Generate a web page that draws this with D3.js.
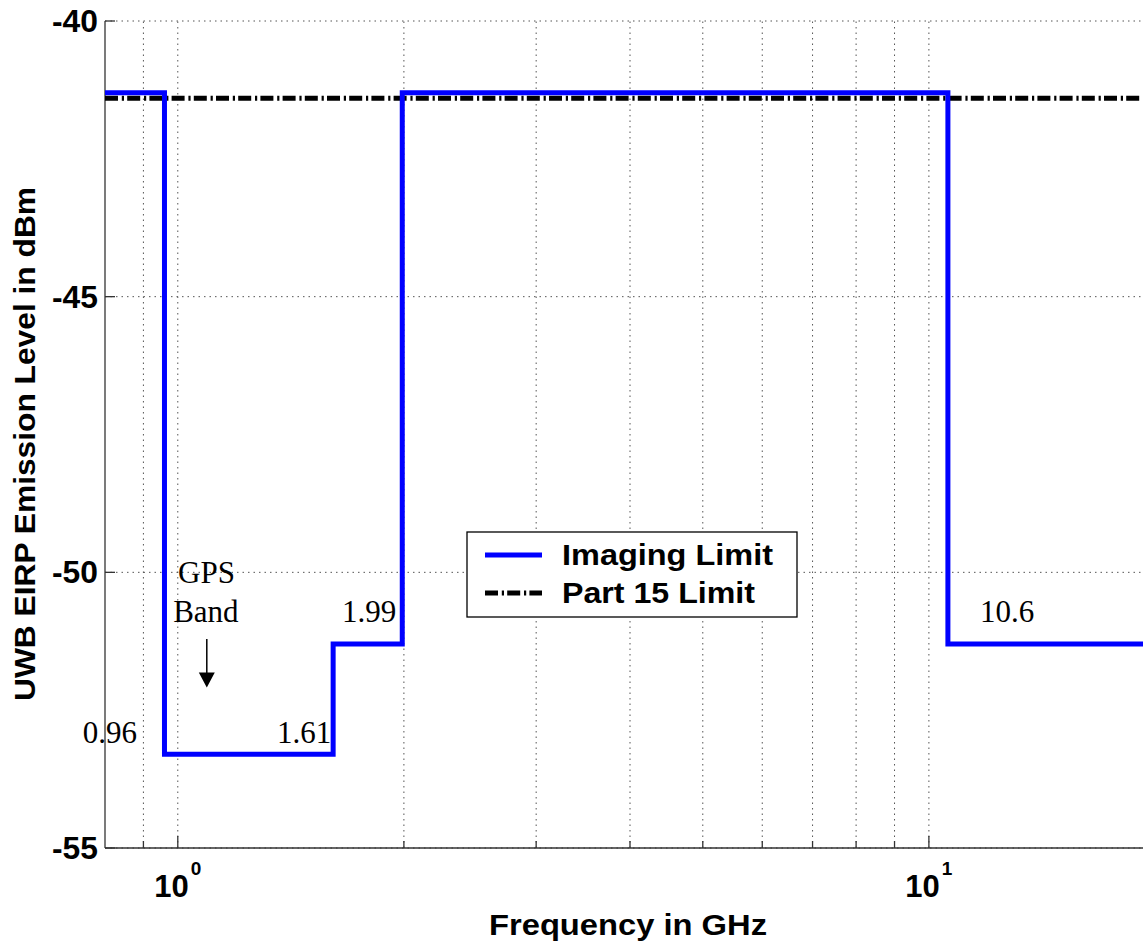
<!DOCTYPE html>
<html>
<head>
<meta charset="utf-8">
<script src="https://cdn.jsdelivr.net/npm/d3@7"></script>
<style>
  html, body { margin: 0; padding: 0; background: #fff; overflow: hidden; }
  svg { display: block; }
</style>
</head>
<body>
<svg id="chart" width="1143" height="942"></svg>
<script>
// ---------------- data ----------------
const stepEdges   = [0.8, 0.96, 1.61, 1.99, 10.6, 20];   // GHz
const stepLevels  = [-41.3, -53.3, -51.3, -41.3, -51.3]; // dBm (Imaging limit)
const part15Freq  = [0.8, 20];
const part15Level = [-41.4, -41.4];
const yTicks      = [-40, -45, -50, -55];
const yTickLabels = ["-40", "-45", "-50", "-55"];
const xMajorTicks = [1, 10];
const xMajorExp   = ["0", "1"];
const xMinorTicks = [0.9, 2, 3, 4, 5, 6, 7, 8, 9, 20];
const seriesNames = ["Imaging Limit", "Part 15 Limit"];
const annoText    = ["0.96", "1.61", "1.99", "GPS", "Band", "10.6"];
const annoX       = [0.747, 1.355, 1.654, 1.001, 0.986, 11.7];
const annoY       = [-53.1, -53.1, -50.9, -50.2, -50.9, -50.9];
const arrowX      = 1.093;
const arrowY      = [-51.21, -52.09];

// ---------------- layout ----------------
const svg = d3.select("#chart");
const x = d3.scaleLog().domain([0.8, 20]).range([105, 1155]);
const y = d3.scaleLinear().domain([-55, -40]).range([848, 21]);
const SANS = "'Liberation Sans', Arial, Helvetica, sans-serif";
const SERIF = "'Liberation Serif', 'Times New Roman', serif";

// grid
const grid = svg.append("g");
const allX = xMinorTicks.concat(xMajorTicks);
grid.selectAll("line.vx").data(allX).enter().append("line")
  .attr("x1", d => x(d)).attr("x2", d => x(d))
  .attr("y1", y(-55)).attr("y2", y(-40))
  .attr("stroke", "#555").attr("stroke-width", 1)
  .attr("stroke-dasharray", "1.5,4");
grid.selectAll("line.hy").data(yTicks).enter().append("line")
  .attr("x1", x(0.8)).attr("x2", x(20))
  .attr("y1", d => y(d)).attr("y2", d => y(d))
  .attr("stroke", "#555").attr("stroke-width", 1)
  .attr("stroke-dasharray", "1.5,4");

// axes lines
svg.append("line").attr("x1", x(0.8)).attr("x2", x(0.8))
  .attr("y1", y(-40)).attr("y2", y(-55)).attr("stroke", "#333").attr("stroke-width", 1.3);
svg.append("line").attr("x1", x(0.8)).attr("x2", x(20))
  .attr("y1", y(-55)).attr("y2", y(-55)).attr("stroke", "#333").attr("stroke-width", 1.3);

// ticks (inward)
svg.selectAll("line.yt").data(yTicks).enter().append("line")
  .attr("x1", x(0.8)).attr("x2", x(0.8) + 10)
  .attr("y1", d => y(d)).attr("y2", d => y(d))
  .attr("stroke", "#333").attr("stroke-width", 1.3);
svg.selectAll("line.xmin").data(xMinorTicks).enter().append("line")
  .attr("x1", d => x(d)).attr("x2", d => x(d))
  .attr("y1", y(-55)).attr("y2", y(-55) - 7)
  .attr("stroke", "#333").attr("stroke-width", 1.3);
svg.selectAll("line.xmaj").data(xMajorTicks).enter().append("line")
  .attr("x1", d => x(d)).attr("x2", d => x(d))
  .attr("y1", y(-55)).attr("y2", y(-55) - 12)
  .attr("stroke", "#333").attr("stroke-width", 1.3);

// y tick labels
svg.selectAll("text.yl").data(yTicks).enter().append("text")
  .attr("x", 98).attr("y", d => y(d)).attr("dy", "0.36em")
  .attr("text-anchor", "end")
  .attr("font-family", SANS).attr("font-weight", "bold").attr("font-size", 31)
  .attr("textLength", 46).attr("lengthAdjust", "spacingAndGlyphs")
  .text((d, i) => yTickLabels[i]);

// x tick labels 10^n
const xl = svg.selectAll("text.xl").data(xMajorTicks).enter().append("text")
  .attr("x", d => x(d)).attr("y", 897)
  .attr("text-anchor", "middle")
  .attr("font-family", SANS).attr("font-weight", "bold").attr("font-size", 31);
xl.append("tspan").text("10");
xl.append("tspan").attr("dy", -22).attr("dx", 2).attr("font-size", 19).text((d, i) => xMajorExp[i]);

// axis titles
svg.append("text")
  .attr("x", 628).attr("y", 935).attr("text-anchor", "middle")
  .attr("font-family", SANS).attr("font-weight", "bold").attr("font-size", 29)
  .attr("textLength", 278).attr("lengthAdjust", "spacingAndGlyphs")
  .text("Frequency in GHz");
svg.append("text")
  .attr("transform", "translate(35,444) rotate(-90)")
  .attr("text-anchor", "middle")
  .attr("font-family", SANS).attr("font-weight", "bold").attr("font-size", 30)
  .attr("textLength", 514).attr("lengthAdjust", "spacingAndGlyphs")
  .text("UWB EIRP Emission Level in dBm");

// Part 15 limit (dash-dot)
const p15 = part15Freq.map((f, i) => [f, part15Level[i]]);
svg.append("path").datum(p15)
  .attr("d", d3.line().x(d => x(d[0])).y(d => y(d[1])))
  .attr("fill", "none").attr("stroke", "#000").attr("stroke-width", 5)
  .attr("stroke-dasharray", "13,3.8,2.2,3.2");

// Imaging limit (steps)
const pts = stepEdges.map((f, i) => [f, i < stepLevels.length ? stepLevels[i] : stepLevels[stepLevels.length - 1]]);
svg.append("path").datum(pts)
  .attr("d", d3.line().curve(d3.curveStepAfter).x(d => x(d[0])).y(d => y(d[1])))
  .attr("fill", "none").attr("stroke", "#0000ff").attr("stroke-width", 5)
  .attr("stroke-linejoin", "miter");

// annotations
svg.selectAll("text.anno").data(annoText).enter().append("text")
  .attr("x", (d, i) => x(annoX[i])).attr("y", (d, i) => y(annoY[i]))
  .attr("font-family", SERIF).attr("font-size", 31).attr("fill", "#000")
  .text(d => d);

// arrow
svg.append("line")
  .attr("x1", x(arrowX)).attr("x2", x(arrowX))
  .attr("y1", y(arrowY[0])).attr("y2", y(arrowY[1]) - 12)
  .attr("stroke", "#000").attr("stroke-width", 1.5);
const ax = x(arrowX), ay = y(arrowY[1]);
svg.append("path")
  .attr("d", `M${ax - 8},${ay - 15} L${ax + 8},${ay - 15} L${ax},${ay} Z`)
  .attr("fill", "#000");

// legend
const lg = svg.append("g");
lg.append("rect").attr("x", 467).attr("y", 532).attr("width", 330).attr("height", 85)
  .attr("fill", "#fff").attr("stroke", "#000").attr("stroke-width", 1.3);
lg.append("line").attr("x1", 485).attr("x2", 542).attr("y1", 555).attr("y2", 555)
  .attr("stroke", "#0000ff").attr("stroke-width", 5);
lg.append("line").attr("x1", 485).attr("x2", 542).attr("y1", 593).attr("y2", 593)
  .attr("stroke", "#000").attr("stroke-width", 5).attr("stroke-dasharray", "13,3.8,2.2,3.2");
lg.selectAll("text.lt").data(seriesNames).enter().append("text")
  .attr("x", 562).attr("y", (d, i) => i === 0 ? 565 : 603)
  .attr("font-family", SANS).attr("font-weight", "bold").attr("font-size", 30)
  .attr("textLength", (d, i) => i === 0 ? 211 : 193).attr("lengthAdjust", "spacingAndGlyphs")
  .text(d => d);
</script>
</body>
</html>
